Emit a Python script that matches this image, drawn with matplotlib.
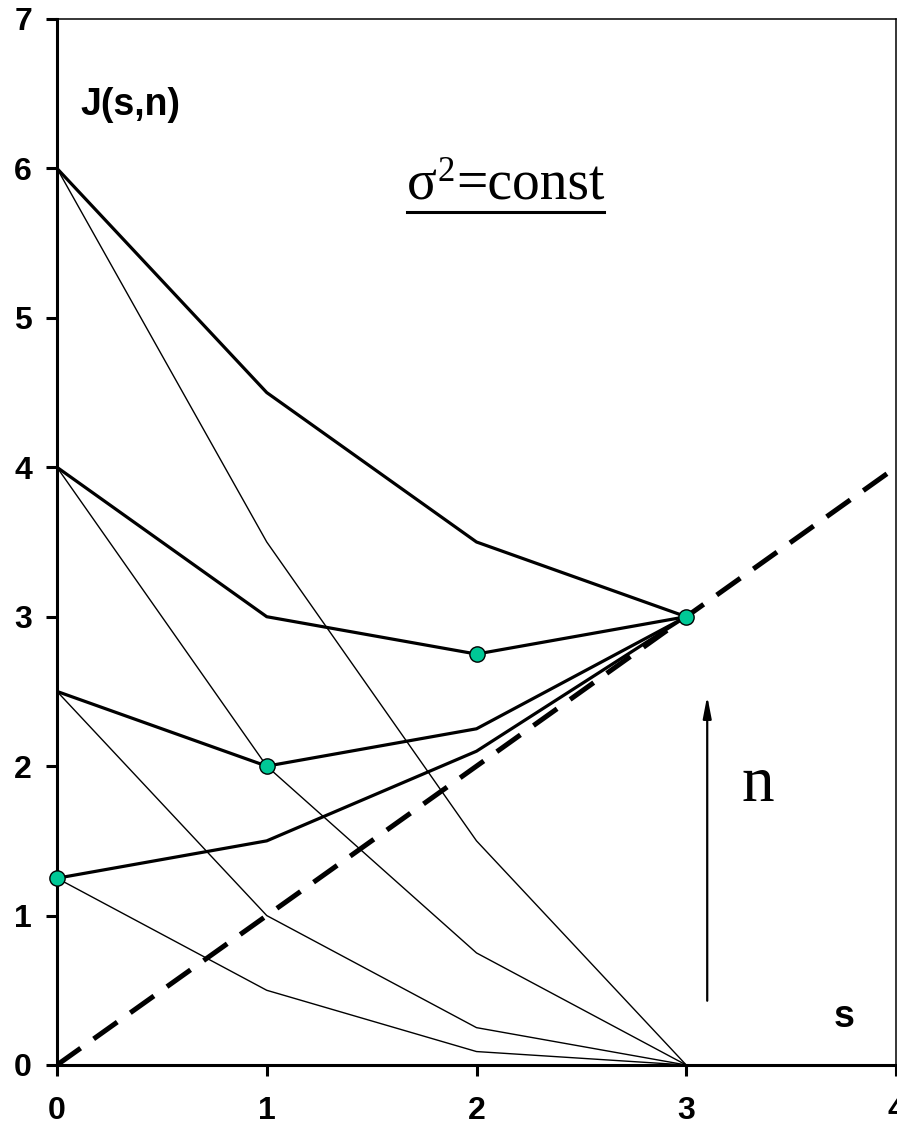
import matplotlib
matplotlib.use("Agg")
import matplotlib.pyplot as plt
from matplotlib.lines import Line2D

# ---- data ----
s_vals = [0, 1, 2, 3]
# thin curves (fan to zero at s=3)
thin_a = [6.0, 3.5, 1.5, 0.0]
thin_b = [4.0, 2.0, 0.75, 0.0]
thin_c = [2.5, 1.0, 0.25, 0.0]
thin_d = [1.25, 0.5, 0.09, 0.0]
# thick curves (converge to 3 at s=3)
thick_a = [6.0, 4.5, 3.5, 3.0]
thick_b = [4.0, 3.0, 2.75, 3.0]
thick_c = [2.5, 2.0, 2.25, 3.0]
thick_d = [1.25, 1.5, 2.1, 3.0]
# highlighted points
pts_x = [0, 1, 2, 3]
pts_y = [1.25, 2.0, 2.75, 3.0]
# diagonal reference J = s
diag_x = [0, 4]
diag_y = [0, 4]
xticks = [0, 1, 2, 3, 4]
yticks = [0, 1, 2, 3, 4, 5, 6, 7]

W, H = 897, 1130
fig = plt.figure(figsize=(W / 100, H / 100), dpi=100)
ax = fig.add_axes([57 / W, 1 - 1065 / H, (896 - 57) / W, (1065 - 19) / H])

ax.plot(diag_x, diag_y, color="black", lw=3.6, dashes=(5.8, 3.2), zorder=2,
        solid_capstyle="butt", dash_capstyle="butt")

for ys in (thin_a, thin_b, thin_c, thin_d):
    ax.plot(s_vals, ys, color="black", lw=1.0, zorder=3)
for ys in (thick_a, thick_b, thick_c, thick_d):
    ax.plot(s_vals, ys, color="black", lw=2.3, zorder=4)

ax.plot(pts_x, pts_y, linestyle="none", marker="o", markersize=11,
        markerfacecolor="#00C896", markeredgecolor="black", markeredgewidth=1.0,
        zorder=6, clip_on=False)

ax.set_xlim(0, 4)
ax.set_ylim(0, 7)
ax.set_xticks(xticks)
ax.set_yticks(yticks)
ax.tick_params(direction="out", length=8, width=2.2, labelsize=23)
ax.tick_params(axis="x", pad=14)
ax.tick_params(axis="y", pad=10)
for lab in ax.get_xticklabels() + ax.get_yticklabels():
    lab.set_fontfamily("Liberation Sans")
    lab.set_fontweight("bold")

ax.spines["left"].set_linewidth(2.2)
ax.spines["bottom"].set_linewidth(2.2)
ax.spines["top"].set_linewidth(1.1)
ax.spines["right"].set_linewidth(1.1)

# annotations
ax.text(0.11, 6.36, "J(s,n)", fontsize=27, fontweight="bold",
        family="Liberation Sans", ha="left", va="baseline")
ax.text(3.705, 0.254, "s", fontsize=27, fontweight="bold",
        family="Liberation Sans", ha="left", va="baseline")
ax.text(3.34, 1.77, "n", fontsize=47, family="Liberation Serif",
        ha="center", va="baseline")

ax.annotate("", xy=(3.1, 2.47), xytext=(3.1, 0.43),
            arrowprops=dict(arrowstyle="-|>,head_length=1.3,head_width=0.25",
                            lw=1.6, color="black", shrinkA=0, shrinkB=0))

# sigma^2 = const, built from pieces, then underlined
sig = ax.text(1.667, 5.795, "σ", fontsize=40, family="Liberation Serif",
              ha="left", va="baseline")
fig.canvas.draw()
b1 = sig.get_window_extent()
inv = ax.transData.inverted()
x2, _ = inv.transform((b1.x1 + 1, 0))
sup = ax.text(x2, 5.795, "2", fontsize=25, family="Liberation Serif",
              ha="left", va="baseline")
sup.set_position((x2, inv.transform((0, ax.transData.transform((0, 5.795))[1] + 18))[1]))
fig.canvas.draw()
b2 = sup.get_window_extent()
x3, _ = inv.transform((b2.x1 + 1, 0))
rest = ax.text(x3, 5.795, "=const", fontsize=40, family="Liberation Serif",
               ha="left", va="baseline")
fig.canvas.draw()
b3 = rest.get_window_extent()
y_ul = b1.y0 - 1
fig.add_artist(Line2D([b1.x0 / W, b3.x1 / W], [y_ul / H, y_ul / H],
                      transform=fig.transFigure, color="black", lw=2.2))

fig.savefig("out.png", dpi=100)
